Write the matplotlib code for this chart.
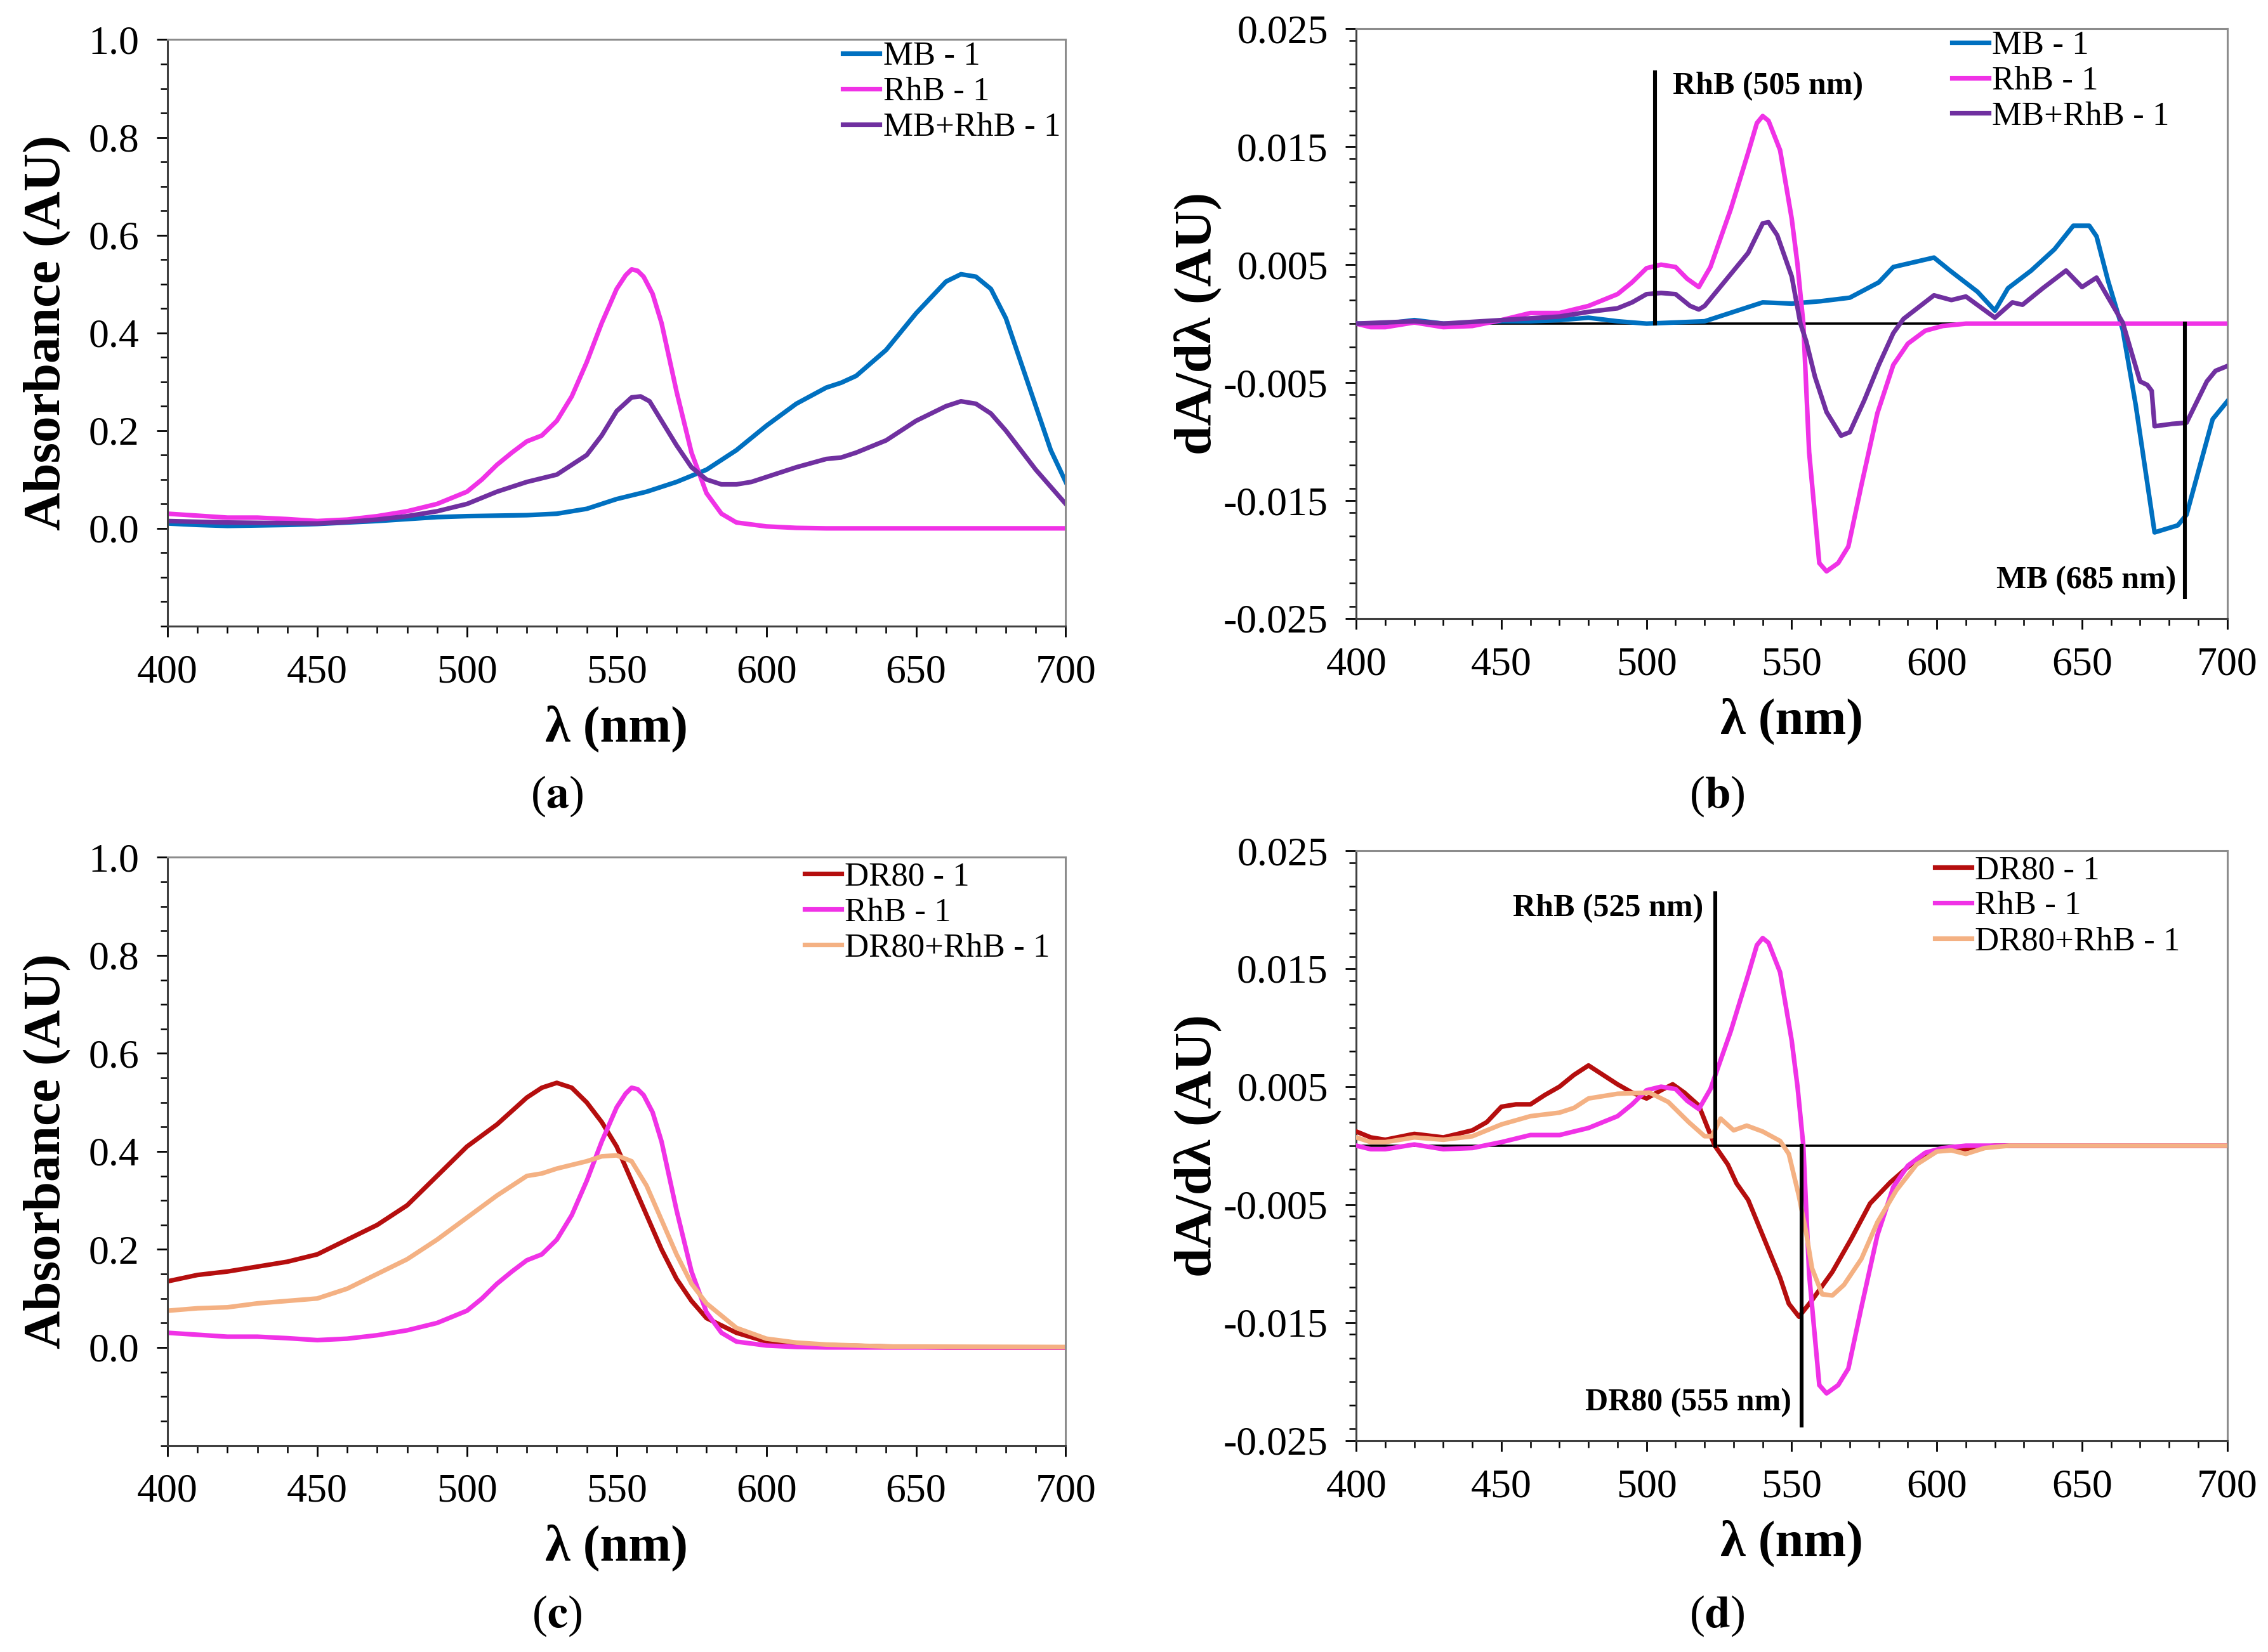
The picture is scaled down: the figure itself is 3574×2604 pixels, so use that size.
import matplotlib
matplotlib.use("Agg")
import matplotlib.pyplot as plt
from matplotlib.ticker import MultipleLocator, FormatStrFormatter

plt.rcParams["font.family"] = ["Liberation Serif", "DejaVu Serif"]
plt.rcParams["mathtext.fontset"] = "stix"
plt.rcParams["lines.solid_joinstyle"] = "round"

# ---- panel (a): absorbance ----
mb_wl = [400, 410, 420, 430, 440, 450, 460, 470, 480, 490, 500, 510, 520, 530, 540,
         550, 560, 570, 580, 590, 600, 610, 620, 625, 630, 640, 650, 660, 665, 670,
         675, 680, 685, 690, 695, 700]
mb_abs = [0.010, 0.007, 0.005, 0.006, 0.007, 0.009, 0.012, 0.015, 0.019, 0.023, 0.025,
          0.026, 0.027, 0.030, 0.040, 0.060, 0.075, 0.095, 0.120, 0.160, 0.210, 0.255,
          0.288, 0.298, 0.312, 0.365, 0.440, 0.505, 0.520, 0.515, 0.490, 0.430, 0.340,
          0.250, 0.160, 0.095]

rhb_wl = [400, 410, 420, 430, 440, 450, 460, 470, 480, 490, 500, 505, 510, 515, 520,
          525, 530, 535, 540, 545, 550, 553, 555, 557, 559, 562, 565, 570, 575, 580,
          585, 590, 600, 610, 620, 650, 700]
rhb_abs = [0.030, 0.026, 0.022, 0.022, 0.019, 0.015, 0.018, 0.025, 0.035, 0.050, 0.075,
           0.100, 0.130, 0.155, 0.178, 0.190, 0.220, 0.270, 0.340, 0.420, 0.490, 0.518,
           0.530, 0.527, 0.515, 0.480, 0.420, 0.280, 0.155, 0.072, 0.030, 0.012, 0.004,
           0.001, 0.000, 0.000, 0.000]

mbrhb_wl = [400, 420, 450, 460, 470, 480, 490, 500, 510, 520, 530, 540, 545, 550, 555,
            558, 561, 565, 570, 575, 580, 585, 590, 595, 600, 610, 620, 625, 630, 640,
            650, 660, 665, 670, 675, 680, 690, 700]
mbrhb_abs = [0.015, 0.012, 0.010, 0.013, 0.018, 0.025, 0.035, 0.050, 0.075, 0.095, 0.110,
             0.150, 0.190, 0.240, 0.268, 0.270, 0.260, 0.220, 0.170, 0.125, 0.100, 0.090,
             0.090, 0.095, 0.105, 0.125, 0.142, 0.145, 0.155, 0.180, 0.220, 0.250, 0.260,
             0.255, 0.235, 0.200, 0.120, 0.050]

# ---- panel (b): first derivative ----
mb_d_wl = [400, 410, 420, 430, 440, 450, 460, 470, 480, 490, 500, 510, 520, 530, 540,
           550, 560, 570, 580, 585, 588.5, 599, 604.5, 614, 620, 624.5, 632.5, 640.5,
           647, 652.5, 655, 659, 664, 668.5, 675, 683, 686, 695, 700]
mb_d = [0.0000, 0.0000, 0.0003, 0.0000, 0.0000, 0.0002, 0.0002, 0.0003, 0.0005, 0.0002,
        0.0000, 0.0001, 0.0002, 0.0010, 0.0018, 0.0017, 0.0019, 0.0022, 0.0035, 0.0048,
        0.0050, 0.0056, 0.0045, 0.0027, 0.0011, 0.0030, 0.0045, 0.0063, 0.0083, 0.0083,
        0.0074, 0.0036, -0.0005, -0.0069, -0.0177, -0.0171, -0.0162, -0.0081, -0.0066]

rhb_d_wl = [400, 405, 410, 420, 430, 440, 450, 460, 470, 480, 490, 495, 500, 505, 510,
            514, 518, 522, 529, 535, 538, 540, 542, 546, 550, 552, 554, 556, 559.5, 562,
            566, 569.5, 574, 579.5, 585, 590, 596, 602, 610, 650, 700]
rhb_d = [0.0000, -0.0003, -0.0003, 0.0001, -0.0003, -0.0002, 0.0003, 0.0009, 0.0009,
         0.0015, 0.0025, 0.0035, 0.0047, 0.0050, 0.0048, 0.0038, 0.0031, 0.0048, 0.0097,
         0.0145, 0.0170, 0.0176, 0.0172, 0.0147, 0.0089, 0.0050, 0.0000, -0.0109,
         -0.0203, -0.0210, -0.0203, -0.0189, -0.0137, -0.0076, -0.0035, -0.0017, -0.0006,
         -0.0002, 0.0000, 0.0000, 0.0000]

mbrhb_d_wl = [400, 420, 430, 450, 470, 480, 490, 495, 500, 505, 510, 515, 518, 520, 525,
              530, 535, 540, 542, 545, 550, 553, 555, 558, 562, 567, 570, 575, 580, 585,
              588.5, 599, 605, 610, 620, 626, 629.5, 636.5, 644.5, 650, 655, 664, 670,
              672.5, 674, 675, 681, 686, 693, 696, 700]
mbrhb_d = [0.0000, 0.0002, 0.0000, 0.0003, 0.0006, 0.0010, 0.0013, 0.0018, 0.0025, 0.0026,
           0.0025, 0.0015, 0.0012, 0.0015, 0.0030, 0.0045, 0.0060, 0.0085, 0.0086, 0.0075,
           0.0040, 0.0000, -0.0015, -0.0045, -0.0075, -0.0095, -0.0092, -0.0065, -0.0035,
           -0.0008, 0.0004, 0.0024, 0.0020, 0.0023, 0.0005, 0.0018, 0.0016, 0.0030, 0.0045,
           0.0031, 0.0039, 0.0001, -0.0049, -0.0052, -0.0057, -0.0087, -0.0085, -0.0084,
           -0.0049, -0.0040, -0.0036]

# ---- panel (c): absorbance ----
dr80_wl = [400, 410, 420, 430, 440, 450, 460, 470, 480, 490, 500, 510, 520, 525, 530,
           535, 540, 545, 550, 555, 560, 565, 570, 575, 580, 590, 600, 610, 620, 640,
           660, 700]
dr80_abs = [0.135, 0.148, 0.155, 0.165, 0.175, 0.190, 0.220, 0.250, 0.290, 0.350, 0.410,
            0.455, 0.510, 0.530, 0.540, 0.530, 0.500, 0.460, 0.410, 0.340, 0.270, 0.200,
            0.140, 0.095, 0.060, 0.030, 0.012, 0.008, 0.005, 0.002, 0.000, 0.000]

dr80rhb_wl = [400, 410, 420, 430, 440, 450, 460, 470, 480, 490, 500, 510, 520, 525, 530,
              540, 545, 550, 555, 560, 565, 570, 575, 580, 590, 600, 610, 620, 640, 700]
dr80rhb_abs = [0.075, 0.080, 0.082, 0.090, 0.095, 0.100, 0.120, 0.150, 0.180, 0.220,
               0.265, 0.310, 0.350, 0.355, 0.365, 0.380, 0.390, 0.392, 0.380, 0.330,
               0.260, 0.190, 0.130, 0.090, 0.040, 0.018, 0.010, 0.006, 0.002, 0.001]

# ---- panel (d): first derivative ----
dr80_d_wl = [400, 405, 410, 420, 430, 440, 445, 450, 455, 460, 465, 470, 475, 480, 485,
             490, 495, 500, 505, 509, 513, 518, 523.5, 528, 531, 535, 540, 546, 549,
             552.5, 557, 564, 570.5, 577, 584, 591, 597.5, 602, 607, 612, 620, 700]
dr80_d = [0.0012, 0.0007, 0.0005, 0.0010, 0.0007, 0.0013, 0.0020, 0.0033, 0.0035, 0.0035,
          0.0043, 0.0050, 0.0060, 0.0068, 0.0060, 0.0052, 0.0045, 0.0040, 0.0047, 0.0052,
          0.0045, 0.0034, 0.0000, -0.0016, -0.0032, -0.0046, -0.0076, -0.0112, -0.0134,
          -0.0145, -0.0131, -0.0107, -0.0079, -0.0049, -0.0031, -0.0016, -0.0006, -0.0002,
          -0.0004, -0.0002, 0.0000, 0.0000]

dr80rhb_d_wl = [400, 405, 410, 420, 430, 440, 450, 460, 470, 475, 480, 490, 501, 507.5,
                514.5, 520, 522.5, 525.5, 530, 534.5, 540, 546, 549, 552.5, 555, 557,
                560.5, 564, 568, 574, 579.5, 586, 593, 600, 605, 610, 616.5, 625, 700]
dr80rhb_d = [0.0007, 0.0003, 0.0003, 0.0007, 0.0005, 0.0008, 0.0018, 0.0025, 0.0028,
             0.0032, 0.0040, 0.0044, 0.0045, 0.0037, 0.0020, 0.0008, 0.0008, 0.0023,
             0.0013, 0.0017, 0.0012, 0.0004, -0.0007, -0.0043, -0.0074, -0.0104, -0.0126,
             -0.0127, -0.0118, -0.0096, -0.0065, -0.0038, -0.0016, -0.0005, -0.0004,
             -0.0007, -0.0002, 0.0000, 0.0000]

C_MB = "#0070C0"
C_RHB = "#F032E6"
C_MIX = "#7030A0"
C_DR80 = "#B50E0E"
C_MIX2 = "#F4B183"
LW = 2.6
TICK_FS = 23


def style_axes(ax, deriv):
    ax.set_xlim(400, 700)
    ax.xaxis.set_major_locator(MultipleLocator(50))
    ax.xaxis.set_minor_locator(MultipleLocator(10))
    if deriv:
        ax.set_ylim(-0.025, 0.025)
        ax.set_yticks([-0.025, -0.015, -0.005, 0.005, 0.015, 0.025])
        ax.yaxis.set_minor_locator(MultipleLocator(0.002))
        ax.yaxis.set_major_formatter(FormatStrFormatter("%.3f"))
        ax.set_ylabel("dA/dλ (AU)", fontsize=30, fontweight="bold", labelpad=1)
        ax.axhline(0, color="black", lw=1.3, zorder=1)
    else:
        ax.set_ylim(-0.2, 1.0)
        ax.set_yticks([0.0, 0.2, 0.4, 0.6, 0.8, 1.0])
        ax.yaxis.set_minor_locator(MultipleLocator(0.05))
        ax.yaxis.set_major_formatter(FormatStrFormatter("%.1f"))
        ax.set_ylabel("Absorbance (AU)", fontsize=30, fontweight="bold", labelpad=10)
    ax.set_xlabel("λ (nm)", fontsize=29, fontweight="bold", labelpad=8)
    ax.tick_params(which="major", direction="out", length=6, width=1.0,
                   labelsize=TICK_FS, pad=10)
    ax.tick_params(which="minor", direction="out", length=4, width=0.9)
    ax.tick_params(axis="x", which="both", top=False)
    ax.tick_params(axis="y", which="both", right=False)
    for side in ["top", "right"]:
        ax.spines[side].set_color("#8c8c8c")
    for side in ["left", "bottom"]:
        ax.spines[side].set_color("#404040")
    for side in ax.spines:
        ax.spines[side].set_linewidth(1.1)


def add_legend(ax, x, y):
    ax.legend(loc="upper left", bbox_to_anchor=(x, y), frameon=False, fontsize=19,
              handlelength=1.1, handletextpad=0.1, labelspacing=0.15,
              borderaxespad=0, borderpad=0)


fig = plt.figure(figsize=(17.87, 13.02), dpi=200)
ax_a = fig.add_axes([0.0739, 0.621, 0.396, 0.355])
ax_b = fig.add_axes([0.598, 0.6256, 0.384, 0.357])
ax_c = fig.add_axes([0.0739, 0.125, 0.396, 0.356])
ax_d = fig.add_axes([0.598, 0.128, 0.384, 0.357])

# (a)
ax_a.plot(mb_wl, mb_abs, color=C_MB, lw=LW, label="MB - 1")
ax_a.plot(rhb_wl, rhb_abs, color=C_RHB, lw=LW, label="RhB - 1")
ax_a.plot(mbrhb_wl, mbrhb_abs, color=C_MIX, lw=LW, label="MB+RhB - 1")
style_axes(ax_a, False)
add_legend(ax_a, 0.752, 0.997)

# (b)
ax_b.plot(mb_d_wl, mb_d, color=C_MB, lw=LW, label="MB - 1", zorder=3)
ax_b.plot(rhb_d_wl, rhb_d, color=C_RHB, lw=LW, label="RhB - 1", zorder=3)
ax_b.plot(mbrhb_d_wl, mbrhb_d, color=C_MIX, lw=LW, label="MB+RhB - 1", zorder=3)
style_axes(ax_b, True)
ax_b.plot([503, 503], [0, 0.0213], color="black", lw=2.2, zorder=4)
ax_b.text(509, 0.0201, "RhB (505 nm)", fontsize=18, fontweight="bold", va="center",
          ha="left")
ax_b.plot([685.5, 685.5], [0, -0.0232], color="black", lw=2.2, zorder=4)
ax_b.text(682.5, -0.0218, "MB (685 nm)", fontsize=18, fontweight="bold", va="center",
          ha="right")
add_legend(ax_b, 0.684, 0.997)

# (c)
ax_c.plot(dr80_wl, dr80_abs, color=C_DR80, lw=LW, label="DR80 - 1")
ax_c.plot(rhb_wl, rhb_abs, color=C_RHB, lw=LW, label="RhB - 1")
ax_c.plot(dr80rhb_wl, dr80rhb_abs, color=C_MIX2, lw=LW, label="DR80+RhB - 1")
style_axes(ax_c, False)
add_legend(ax_c, 0.709, 0.992)

# (d)
ax_d.plot(dr80_d_wl, dr80_d, color=C_DR80, lw=LW, label="DR80 - 1", zorder=3)
ax_d.plot(rhb_d_wl, rhb_d, color=C_RHB, lw=LW, label="RhB - 1", zorder=3)
ax_d.plot(dr80rhb_d_wl, dr80rhb_d, color=C_MIX2, lw=LW, label="DR80+RhB - 1", zorder=3)
style_axes(ax_d, True)
ax_d.plot([523.6, 523.6], [0, 0.0214], color="black", lw=2.2, zorder=4)
ax_d.text(519.6, 0.0201, "RhB (525 nm)", fontsize=18, fontweight="bold", va="center",
          ha="right")
ax_d.plot([553.5, 553.5], [0, -0.0237], color="black", lw=2.2, zorder=4)
ax_d.text(550, -0.0218, "DR80 (555 nm)", fontsize=18, fontweight="bold", va="center",
          ha="right")
add_legend(ax_d, 0.664, 0.992)

for lx, ly, letter in [(0.2455, 0.518, "a"), (0.757, 0.518, "b"),
                       (0.2455, 0.022, "c"), (0.757, 0.022, "d")]:
    fig.text(lx, ly, "(" + r"$\mathbf{" + letter + "}$" + ")", fontsize=26,
             ha="center", va="center")

fig.savefig("out.png", dpi=200)
